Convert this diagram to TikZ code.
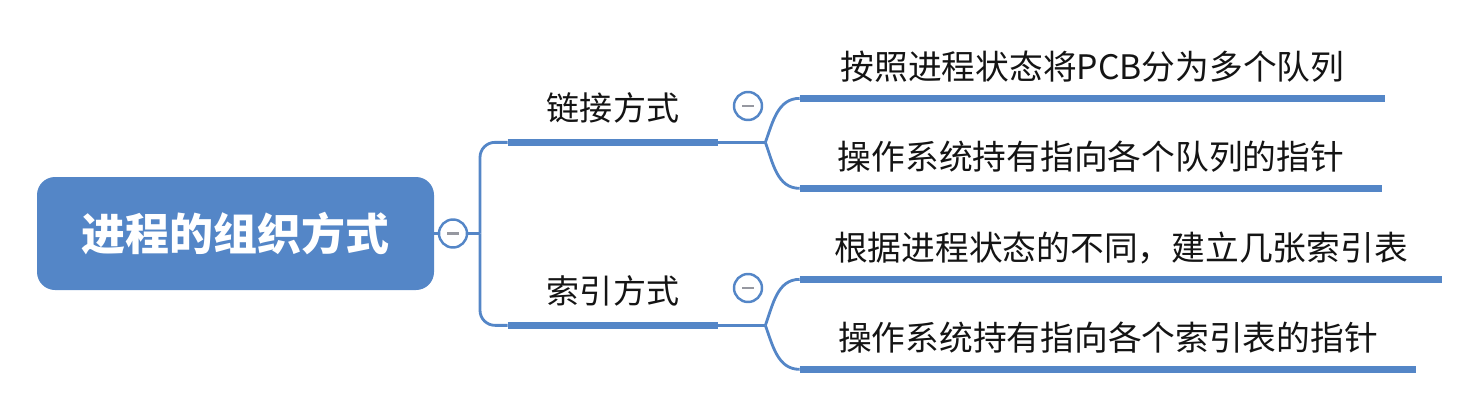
\documentclass[tikz,border=0pt]{standalone}
\usepackage{fontspec}
\setmainfont{Noto Sans CJK SC}
\usetikzlibrary{positioning}
\definecolor{mapblue}{RGB}{84,134,199}
\definecolor{foldgray}{RGB}{150,152,160}
\definecolor{inkgray}{RGB}{20,20,20}
\tikzstyle{rootnode} = [rectangle, rounded corners=0.36cm, fill=mapblue, text=white, minimum width=7.94cm, minimum height=2.26cm, font=\fontsize{25}{30}\selectfont\bfseries]
\tikzstyle{branchnode} = [rectangle, minimum width=4.2cm, minimum height=1.38cm, inner sep=0pt, text=inkgray, font=\fontsize{18.8}{22}\selectfont]
\tikzstyle{leafnode} = [rectangle, minimum height=1.24cm, inner sep=0pt, text=inkgray, font=\fontsize{19.2}{23}\selectfont]
\tikzstyle{fold} = [circle, draw=mapblue, line width=1.4pt, fill=white, minimum size=0.56cm, inner sep=0pt, path picture={\draw[foldgray, line width=1.3pt] ([xshift=-0.12cm]path picture bounding box.center) -- ([xshift=0.12cm]path picture bounding box.center);}]
\tikzstyle{thinline} = [mapblue, line width=1.6pt]
\tikzstyle{bar} = [mapblue, line width=4pt]

\begin{document}
\begin{tikzpicture}
    \useasboundingbox (0,0) rectangle (29.24,8.04);
    \node[rootnode] (root) at (4.71,3.37) {进程的组织方式};
    \node[fold] (rootfold) at (9.06,3.37) {};
    \node[branchnode] (link) at (12.26,5.89) {链接方式};
    \node[branchnode] (index) at (12.26,2.23) {索引方式};
    \node[fold] (linkfold) at (14.96,5.92) {};
    \node[fold] (indexfold) at (14.96,2.28) {};
    \node[leafnode, minimum width=11.70cm] (queue) at (21.85,6.70) {按照进程状态将PCB分为多个队列};
    \node[leafnode, minimum width=11.64cm] (queueptr) at (21.82,4.90) {操作系统持有指向各个队列的指针};
    \node[leafnode, minimum width=12.84cm] (table) at (22.42,3.08) {根据进程状态的不同，建立几张索引表};
    \node[leafnode, minimum width=12.32cm] (tableptr) at (22.16,1.28) {操作系统持有指向各个索引表的指针};
    \coordinate (trunk) at (9.6,3.37);
    \coordinate (linkjoin) at ([xshift=0.94cm]link.south east);
    \coordinate (indexjoin) at ([xshift=0.94cm]index.south east);

    % bars under the topics
    \foreach \n in {link,index,queue,queueptr,table,tableptr}
        \draw[bar] (\n.south west) -- (\n.south east);

    % connectors
    \draw[thinline] (root.east) -- (rootfold.west);
    \draw[thinline] (rootfold.east) -- (trunk);
    \draw[thinline, rounded corners=0.3cm] (trunk) |- (link.south west);
    \draw[thinline, rounded corners=0.3cm] (trunk) |- (index.south west);
    \draw[thinline] (link.south east) -- (linkjoin);
    \draw[thinline] (linkjoin) to[out=70,in=180] (queue.south west);
    \draw[thinline] (linkjoin) to[out=-70,in=180] (queueptr.south west);
    \draw[thinline] (index.south east) -- (indexjoin);
    \draw[thinline] (indexjoin) to[out=70,in=180] (table.south west);
    \draw[thinline] (indexjoin) to[out=-70,in=180] (tableptr.south west);
\end{tikzpicture}
\end{document}
